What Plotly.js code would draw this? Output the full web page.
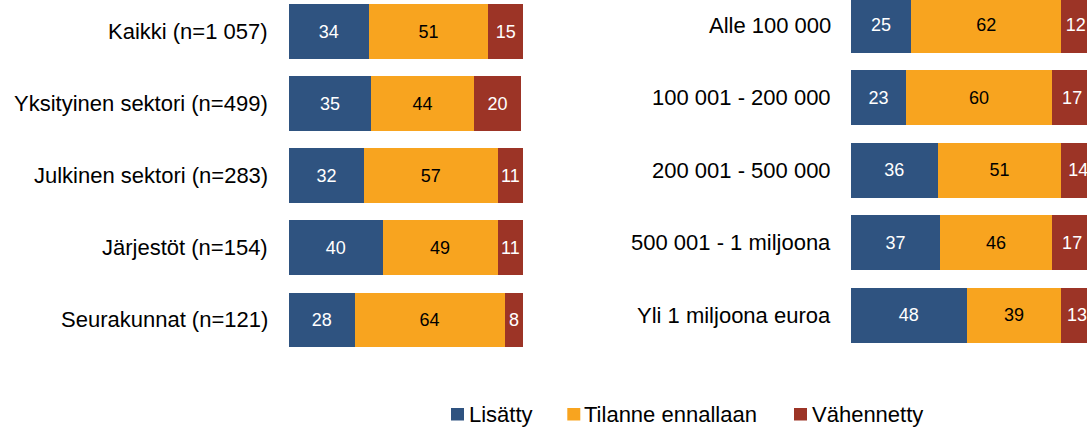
<!DOCTYPE html>
<html>
<head>
<meta charset="utf-8">
<script src="https://cdn.plot.ly/plotly-3.0.1.min.js"></script>
<style>html,body{margin:0;padding:0;background:#fff;}#chart{width:1087px;height:429px;}</style>
</head>
<body>
<div id="chart"></div>
<script>
const seriesNames = ["Lisätty", "Tilanne ennallaan", "Vähennetty"];
const seriesColors = ["#2F5380", "#F8A41F", "#9C3426"];
const textColors = ["#FFFFFF", "#000000", "#FFFFFF"];

const leftCats = ["Kaikki (n=1 057)", "Yksityinen sektori (n=499)", "Julkinen sektori (n=283)", "Järjestöt (n=154)", "Seurakunnat (n=121)"];
const leftLisatty = [34, 35, 32, 40, 28];
const leftTilanne = [51, 44, 57, 49, 64];
const leftVahennetty = [15, 20, 11, 11, 8];

const rightCats = ["Alle 100 000", "100 001 - 200 000", "200 001 - 500 000", "500 001 - 1 miljoona", "Yli 1 miljoona euroa"];
const rightLisatty = [25, 23, 36, 37, 48];
const rightTilanne = [62, 60, 51, 46, 39];
const rightVahennetty = [12, 17, 14, 17, 13];

const W = 1087, H = 429;
const FONT = "Liberation Sans, Arial, sans-serif";

const leftSeries = [leftLisatty, leftTilanne, leftVahennetty];
const rightSeries = [rightLisatty, rightTilanne, rightVahennetty];

const traces = [];
function addTraces(cats, series, xa, ya) {
  series.forEach((vals, i) => {
    traces.push({
      type: "bar",
      orientation: "h",
      x: vals,
      y: cats,
      xaxis: xa,
      yaxis: ya,
      name: seriesNames[i],
      marker: {color: seriesColors[i], line: {width: 0}},
      width: 0.76,
      text: vals.map(String),
      textposition: "inside",
      insidetextanchor: "middle",
      constraintext: "none",
      textfont: {family: FONT, size: 18, color: textColors[i]},
      hoverinfo: "skip",
      showlegend: false
    });
  });
}
addTraces(leftCats, leftSeries, "x", "y");
addTraces(rightCats, rightSeries, "x2", "y2");

const annotations = [];
leftCats.forEach(c => annotations.push({
  text: c, xref: "paper", yref: "y", x: 270 / W, y: c, xanchor: "right", yanchor: "middle",
  showarrow: false, font: {family: FONT, size: 22, color: "#000"}
}));
rightCats.forEach(c => annotations.push({
  text: c, xref: "paper", yref: "y2", x: 832.5 / W, y: c, xanchor: "right", yanchor: "middle",
  showarrow: false, font: {family: FONT, size: 22, color: "#000"}
}));

const legendSquares = [451, 567.3, 794];
const legendTexts = [466.5, 581.5, 809.5];
const shapes = [];
seriesNames.forEach((n, i) => {
  shapes.push({
    type: "rect", xref: "paper", yref: "paper",
    x0: legendSquares[i] / W, x1: (legendSquares[i] + 13) / W,
    y0: (H - 420.5) / H, y1: (H - 408) / H,
    fillcolor: seriesColors[i], line: {width: 0}
  });
  annotations.push({
    text: n, xref: "paper", yref: "paper", x: legendTexts[i] / W, y: (H - 414.5) / H,
    xanchor: "left", yanchor: "middle", showarrow: false,
    font: {family: FONT, size: 22, color: "#000"}
  });
});

const hiddenAxis = {showgrid: false, zeroline: false, showline: false, showticklabels: false, ticks: "", fixedrange: true};

const layout = {
  width: W, height: H,
  margin: {l: 0, r: 0, t: 0, b: 0, pad: 0},
  paper_bgcolor: "#fff", plot_bgcolor: "rgba(0,0,0,0)",
  barmode: "stack",
  showlegend: false,
  xaxis: Object.assign({}, hiddenAxis, {domain: [289 / W, 523.3 / W], range: [0, 100], anchor: "y"}),
  yaxis: Object.assign({}, hiddenAxis, {domain: [0, 1], type: "category", categoryorder: "array", categoryarray: leftCats, range: [5.513, -0.437], anchor: "x"}),
  xaxis2: Object.assign({}, hiddenAxis, {domain: [850.7 / W, 1], range: [0, (W - 850.7) / 2.42], anchor: "y2"}),
  yaxis2: Object.assign({}, hiddenAxis, {domain: [0, 1], type: "category", categoryorder: "array", categoryarray: rightCats, range: [5.573, -0.352], anchor: "x2"}),
  annotations: annotations,
  shapes: shapes
};

Plotly.newPlot("chart", traces, layout, {staticPlot: true, displayModeBar: false});
</script>
</body>
</html>
